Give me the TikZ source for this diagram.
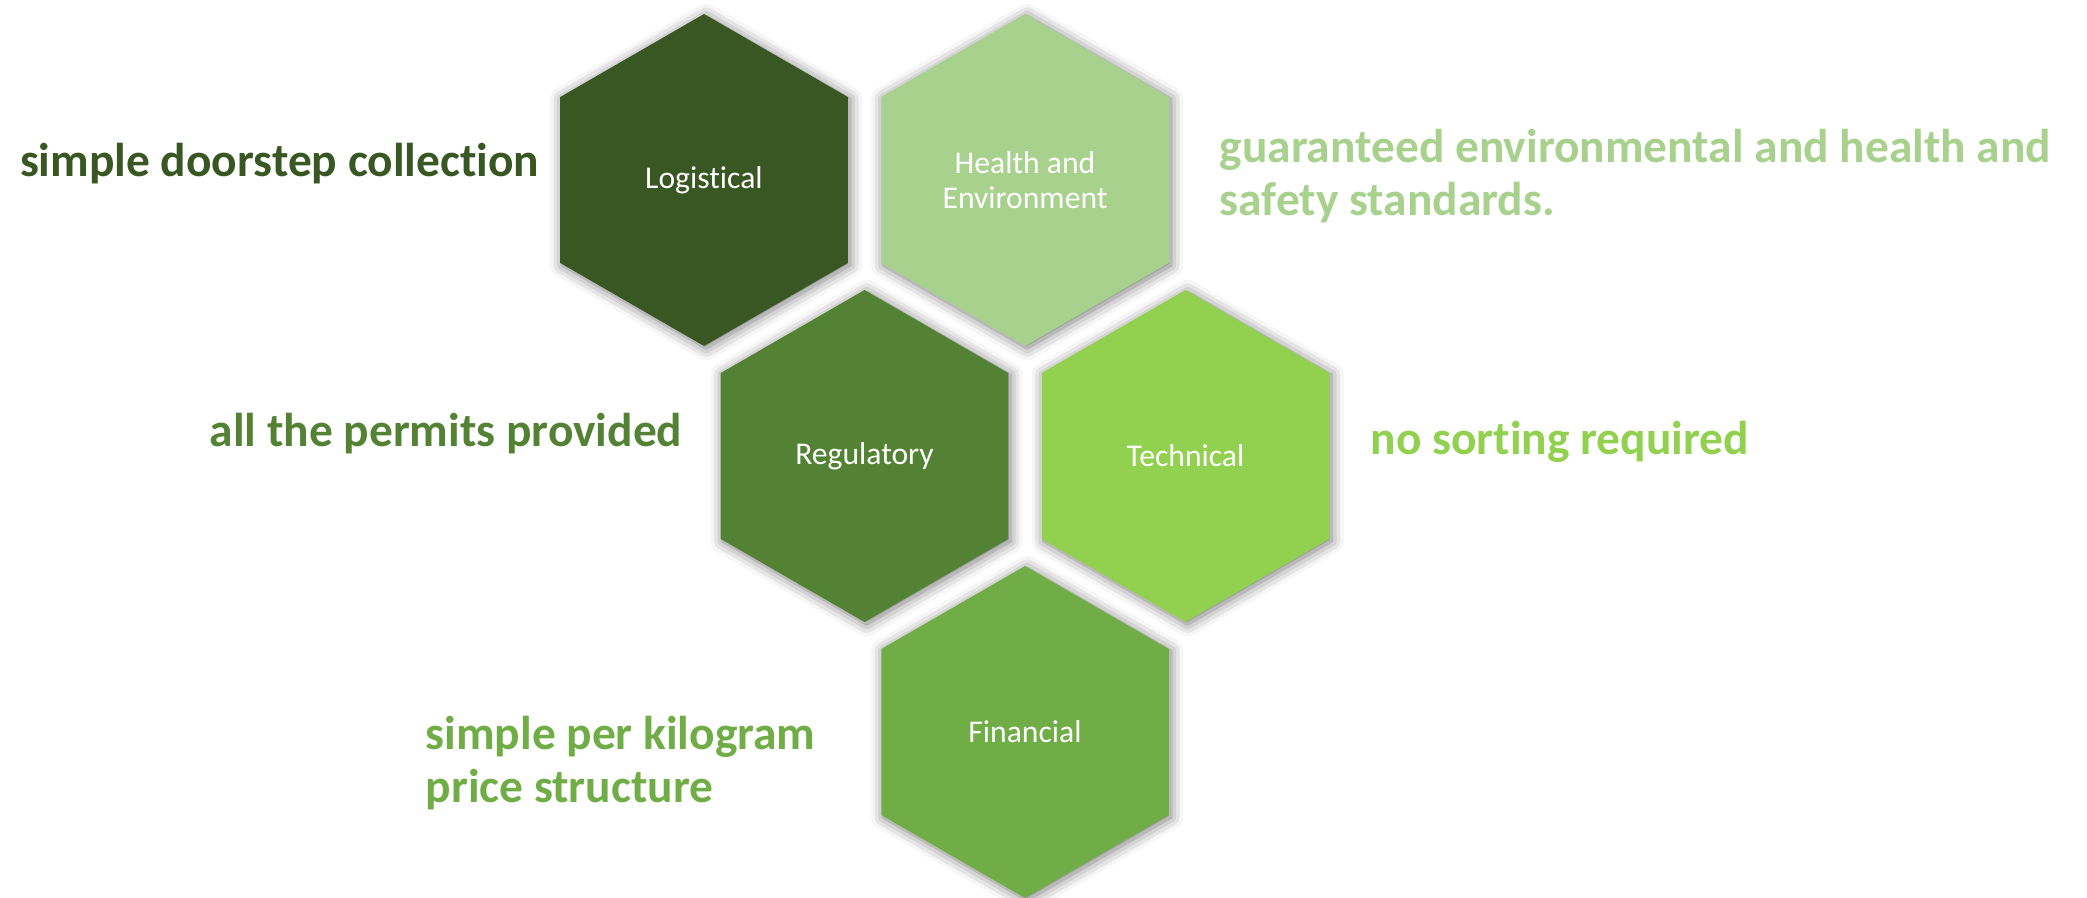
\documentclass[tikz,border=0pt]{standalone}
\usepackage{fontspec}
\setmainfont{Carlito}[Ligatures=NoCommon]
\usetikzlibrary{shapes.geometric,shadows.blur}
\definecolor{logigreen}{HTML}{385723}
\definecolor{healthgreen}{HTML}{A9D18E}
\definecolor{regugreen}{HTML}{548235}
\definecolor{techgreen}{HTML}{92D050}
\definecolor{fingreen}{HTML}{70AD47}
\tikzset{
  hexcell/.style={regular polygon, regular polygon sides=6, shape border rotate=30,
    minimum size=3.32cm, inner sep=0pt, text=white, align=center,
    font=\fontsize{9}{10}\selectfont,
    blur shadow={shadow xshift=0.6pt, shadow yshift=-0.6pt, shadow blur radius=3.5pt, shadow opacity=55}},
  remark/.style={font=\bfseries\fontsize{13.5}{15.1}\selectfont, align=left, inner sep=0pt}
}
\begin{document}
\begin{tikzpicture}
    \useasboundingbox (0,0) rectangle (20.87,8.97);
    % hexagons
    \node[hexcell, fill=logigreen] (logistical) at (7.04,7.17) {Logistical};
    \node[hexcell, fill=healthgreen] (health) at (10.25,7.17) {Health and\\Environment};
    \node[hexcell, fill=regugreen] (regulatory) at (8.645,4.41) {Regulatory};
    \node[hexcell, fill=techgreen] (technical) at (11.855,4.41) {Technical};
    \node[hexcell, fill=fingreen] (financial) at (10.25,1.65) {Financial};
    % remarks next to the hexagons
    \node[remark, text=logigreen, anchor=east] (logitext) at (5.40,7.33) {simple doorstep collection};
    \node[remark, text=healthgreen, anchor=west] (healthtext) at (12.19,7.21) {guaranteed environmental and health and\\safety standards.};
    \node[remark, text=regugreen, anchor=east] (regutext) at (6.83,4.63) {all the permits provided};
    \node[remark, text=techgreen, anchor=west] (techtext) at (13.70,4.55) {no sorting required};
    \node[remark, text=fingreen, anchor=west] (fintext) at (4.25,1.34) {simple per kilogram\\price structure};
\end{tikzpicture}
\end{document}
